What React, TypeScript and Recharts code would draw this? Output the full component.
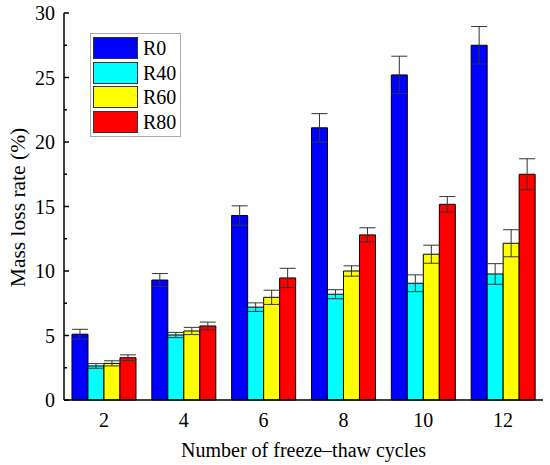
import { BarChart, Bar, XAxis, YAxis, ErrorBar, Legend } from 'recharts';

const cycles = ['2', '4', '6', '8', '10', '12'];
const r0 = [5.1, 9.3, 14.3, 21.1, 25.2, 27.5];
const r0Err = [0.38, 0.5, 0.75, 1.1, 1.45, 1.45];
const r40 = [2.64, 5.04, 7.2, 8.2, 9.05, 9.77];
const r40Err = [0.18, 0.2, 0.33, 0.35, 0.65, 0.8];
const r60 = [2.84, 5.35, 7.96, 10.0, 11.3, 12.15];
const r60Err = [0.2, 0.28, 0.55, 0.4, 0.7, 1.05];
const r80 = [3.28, 5.74, 9.46, 12.8, 15.17, 17.5];
const r80Err = [0.22, 0.3, 0.75, 0.55, 0.6, 1.2];
const yTicks = [0, 2.5, 5, 7.5, 10, 12.5, 15, 17.5, 20, 22.5, 25, 27.5, 30];

const series = [
  { key: 'R0', color: '#0000ff' },
  { key: 'R40', color: '#00ffff' },
  { key: 'R60', color: '#ffff00' },
  { key: 'R80', color: '#ff0000' },
];

const data = cycles.map((c, i) => ({
  cycle: c,
  R0: r0[i],
  R0e: r0Err[i],
  R40: r40[i],
  R40e: r40Err[i],
  R60: r60[i],
  R60e: r60Err[i],
  R80: r80[i],
  R80e: r80Err[i],
}));

const FONT = "'Liberation Serif', 'DejaVu Serif', serif";

const AXIS_X = 64;

function YTick(props: any) {
  const { y, payload } = props;
  const v = payload.value;
  const major = v % 5 === 0;
  return (
    <g>
      <line x1={AXIS_X} x2={AXIS_X + (major ? 5 : 3)} y1={y} y2={y} stroke="#000" strokeWidth={1.5} />
      {major && (
        <text x={AXIS_X - 9} y={y} dy={7} textAnchor="end" style={{ fontFamily: FONT }} fontSize={20} fill="#000">
          {v}
        </text>
      )}
    </g>
  );
}

function LegendBox() {
  return (
    <div
      style={{
        border: '1px solid #aaa',
        background: '#fff',
        padding: '2px 4px 2px 2px',
        fontFamily: FONT,
        fontSize: 20,
        lineHeight: '20px',
      }}
    >
      {series.map((s) => (
        <div key={s.key} style={{ display: 'flex', alignItems: 'center', height: 24.5 }}>
          <span
            style={{
              display: 'inline-block',
              width: 43,
              height: 20,
              background: s.color,
              border: '1px solid #333',
              marginRight: 5,
            }}
          />
          <span>{s.key}</span>
        </div>
      ))}
    </div>
  );
}

export default function App() {
  return (
    <div style={{ position: 'absolute', left: 0, top: 0, background: '#fff', fontFamily: FONT }}>
      <BarChart
        width={550}
        height={465}
        data={data}
        margin={{ top: 13, right: 7, bottom: 0, left: 0 }}
        barCategoryGap="10%"
        barGap={0}
        style={{ fontFamily: FONT }}
      >
        <XAxis
          dataKey="cycle"
          height={65}
          tickLine={false}
          axisLine={{ stroke: '#000', strokeWidth: 1.5 }}
          tick={{ fill: '#000', fontSize: 20, fontFamily: FONT }}
          tickMargin={7}
          label={{
            value: 'Number of freeze–thaw cycles',
            position: 'insideBottom',
            offset: 8,
            style: { fill: '#000', fontSize: 20, fontFamily: FONT },
          }}
        />
        <XAxis xAxisId="top" dataKey="cycle" orientation="top" height={0} tick={false} tickLine={false} axisLine={{ stroke: '#000', strokeWidth: 1.5 }} />
        <YAxis
          width={64}
          domain={[0, 30]}
          ticks={yTicks}
          interval={0}
          tickLine={false}
          tick={<YTick />}
          axisLine={{ stroke: '#000', strokeWidth: 1.5 }}
          label={{
            value: 'Mass loss rate (%)',
            angle: -90,
            position: 'insideLeft',
            offset: 17,
            dy: 1,
            style: { fill: '#000', fontSize: 21.5, fontFamily: FONT, textAnchor: 'middle' },
          }}
        />
        <YAxis yAxisId="right" orientation="right" width={0} domain={[0, 30]} tick={false} tickLine={false} axisLine={{ stroke: '#000', strokeWidth: 1.5 }} />
        <Legend
          layout="vertical"
          verticalAlign="middle"
          align="center"
          wrapperStyle={{ left: 90, top: 33, width: 'auto' }}
          content={<LegendBox />}
        />
        {series.map((s) => (
          <Bar key={s.key} dataKey={s.key} fill={s.color} stroke="#000" strokeWidth={1} isAnimationActive={false}>
            <ErrorBar dataKey={`${s.key}e`} width={8} stroke="#333" strokeWidth={1} />
          </Bar>
        ))}
      </BarChart>
    </div>
  );
}
